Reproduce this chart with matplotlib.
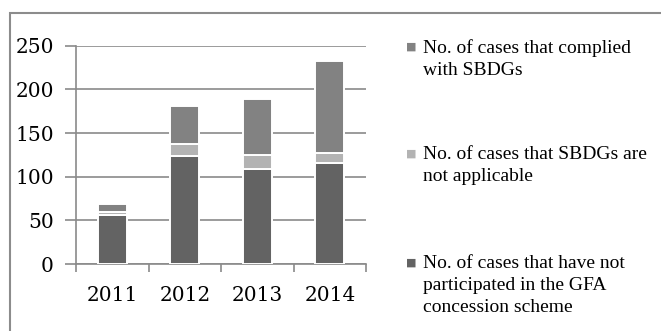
import numpy as np
import matplotlib.pyplot as plt
from matplotlib.patches import Rectangle

years = ["2011", "2012", "2013", "2014"]
not_participated = [56, 124, 109, 116]
not_applicable = [4, 13, 16, 11]
complied = [9, 44, 64, 106]

labels = [
    "No. of cases that complied\nwith SBDGs",
    "No. of cases that SBDGs are\nnot applicable",
    "No. of cases that have not\nparticipated in the GFA\nconcession scheme",
]
colors = ["#828282", "#b3b3b3", "#636363"]

plt.rcParams["font.family"] = ["DejaVu Serif"]
grey = "#8a8a8a"

fig = plt.figure(figsize=(6.61, 3.31), dpi=100)
ax = fig.add_axes([0.115, 0.2024, 0.439, 0.6596])

# outer chart frame
fig.patches.append(Rectangle((10 / 661, -0.1), 2.0, 1 - 13 / 331 + 0.1,
                             transform=fig.transFigure, fill=False,
                             edgecolor="#8c8c8c", linewidth=1.5))

x = np.arange(len(years))
bottom = np.zeros(len(years))
for vals, col in [(not_participated, colors[2]),
                  (not_applicable, colors[1]),
                  (complied, colors[0])]:
    ax.bar(x, vals, 0.4, bottom=bottom, color=col, edgecolor="white",
           linewidth=1.4, zorder=3)
    bottom += np.array(vals)

ax.set_xlim(-0.5, 3.5)
ax.set_ylim(0, 250)
ax.set_yticks(range(0, 251, 50))
ax.set_xticks(x)
ax.set_xticklabels(years)
ax.set_xticks(np.arange(-0.5, 4, 1), minor=True)
ax.tick_params(axis="x", which="major", length=0, pad=16, labelsize=14.5)
ax.tick_params(axis="x", which="minor", length=6, color=grey, width=1.2)
ax.tick_params(axis="y", length=8, color=grey, width=1.2, pad=8, labelsize=14.5)
ax.yaxis.grid(True, color=grey, linewidth=1.2, zorder=0)
for s in ["top", "right"]:
    ax.spines[s].set_visible(False)
for s in ["left", "bottom"]:
    ax.spines[s].set_color(grey)
    ax.spines[s].set_linewidth(1.2)

# legend entries on the right
ys = [47, 154, 263]
for lab, col, yp in zip(labels, colors, ys):
    fy = 1 - yp / 331
    fig.text(411 / 661, fy, "■", color=col, fontsize=8, va="center",
             ha="center", family="DejaVu Sans")
    fig.text(423 / 661, fy + 8 / 331, lab, fontsize=14, va="top",
             ha="left", linespacing=1.38, family="Liberation Serif")

fig.savefig("out.png", dpi=100)
